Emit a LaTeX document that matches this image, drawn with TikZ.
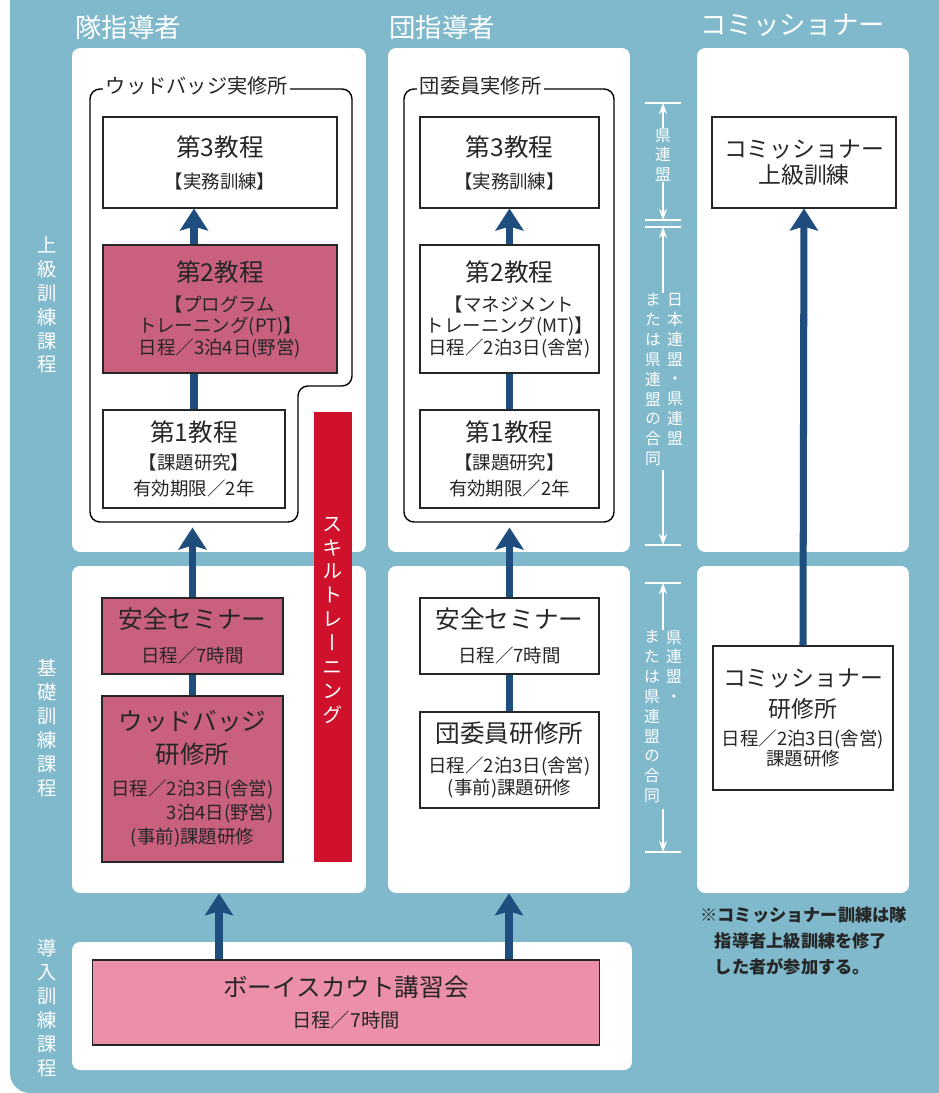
\documentclass[tikz,border=0pt]{standalone}
\usepackage{fontspec}
\setmainfont{Noto Sans CJK JP}
\newfontfamily\vjp{Noto Sans CJK JP}[RawFeature=+vert]
\usetikzlibrary{
  positioning,
  arrows.meta,
  calc
}
\definecolor{bgblue}{HTML}{7FB9CB}
\definecolor{navy}{HTML}{1F4D7E}
\definecolor{rosepink}{HTML}{C8607E}
\definecolor{lightpink}{HTML}{EC8FA8}
\definecolor{skillred}{HTML}{D0112B}
\definecolor{ink}{HTML}{262626}

\newcommand\ttlfont{\fontsize{14}{16.5}\selectfont}
\newcommand\subfont{\fontsize{10.5}{12.2}\selectfont}

\tikzset{
  panel/.style={fill=white, rounded corners=1.6mm, inner sep=0pt},
  cbox/.style={draw=ink, line width=0.6pt, fill=white, text=ink, align=center, inner sep=0pt, font=\subfont},
  pinkbox/.style={cbox, fill=rosepink, text=black!85},
  uparrow/.style={navy, line width=4pt, -{Stealth[length=4.4mm, width=5.6mm, inset=0.8mm]}},
  link/.style={navy, line width=4pt},
  frame/.style={draw=black, line width=0.8pt, rounded corners=2mm},
  framelabel/.style={fill=white, inner sep=1.5pt, anchor=west, text=ink, font=\fontsize{11.5}{13}\selectfont},
  header/.style={anchor=west, text=white, inner sep=0pt, font=\fontsize{15}{18}\selectfont},
  vlabel/.style={text=white, align=center, inner sep=0pt, font=\vjp\fontsize{11}{13.6}\selectfont},
  vnote/.style={text=white, align=center, inner sep=0pt, anchor=north, font=\vjp\fontsize{9}{11.3}\selectfont},
  tick/.style={white, line width=0.7pt},
  guide/.style={white, line width=0.7pt, -{Stealth[length=2.2mm, width=1.6mm]}}
}

\begin{document}
\begin{tikzpicture}[x=0.02cm, y=-0.02cm]
  \useasboundingbox (0,0) rectangle (939,1093);
  % Background
  \fill[white] (0,0) rectangle (939,1093);
  \fill[bgblue, rounded corners=4mm] (10,-40) rectangle (979,1093);

  % Headers
  \node[header] (hTai) at (75,27) {隊指導者};
  \node[header] (hDan) at (389,27) {団指導者};
  \node[header] (hCom) at (700,25) {コミッショナー};

  % Course labels
  \node[vlabel] (lblJo) at (47,305) {上\\級\\訓\\練\\課\\程};
  \node[vlabel] (lblKiso) at (47,728) {基\\礎\\訓\\練\\課\\程};
  \node[vlabel] (lblDonyu) at (47,1008) {導\\入\\訓\\練\\課\\程};

  % Panels
  \node[panel, minimum width=5.88cm, minimum height=10.08cm] (advL) at (219,300) {};
  \node[panel, minimum width=5.88cm, minimum height=6.54cm] (baseL) at (219,729.5) {};
  \node[panel, minimum width=4.84cm, minimum height=10.08cm] (advM) at (509,300) {};
  \node[panel, minimum width=4.84cm, minimum height=6.54cm] (baseM) at (509,729.5) {};
  \node[panel, minimum width=4.24cm, minimum height=10.08cm] (advR) at (803,300) {};
  \node[panel, minimum width=4.24cm, minimum height=6.54cm] (baseR) at (803,729.5) {};
  \node[panel, minimum width=11.2cm, minimum height=2.56cm] (introP) at (352,1006) {};

  % Frames
  \draw[frame] (90,522) -- (90,89) -- (352,89) -- (352,386) -- (298,386) -- (298,522) -- cycle;
  \node[framelabel] (wbFrame) at (103,86) {ウッドバッジ実修所};
  \draw[frame] (404,522) rectangle (614,89);
  \node[framelabel] (dnFrame) at (417,86) {団委員実修所};

  % Left column
  \node[cbox, minimum width=4.68cm, minimum height=1.82cm] (dai3L) at (220,162.5)
    {{\ttlfont 第3教程}\\[6pt]【実務訓練】};
  \node[pinkbox, minimum width=4.68cm, minimum height=2.56cm] (dai2L) at (220,309)
    {{\ttlfont 第2教程}\\[5pt]【プログラム\\トレーニング(PT)】\\日程／3泊4日(野営)};
  \node[cbox, minimum width=3.64cm, minimum height=1.96cm] (dai1L) at (194,459)
    {{\ttlfont 第1教程}\\[4pt]【課題研究】\\[2.5pt]有効期限／2年};
  \node[pinkbox, minimum width=3.62cm, minimum height=1.52cm] (anzenL) at (192.5,636)
    {{\ttlfont 安全セミナー}\\[7pt]日程／7時間};
  \node[pinkbox, minimum width=3.62cm, minimum height=3.32cm] (wbkenL) at (192.5,779)
    {{\ttlfont ウッドバッジ}\\[5pt]{\ttlfont 研修所}\\[6pt]日程／2泊3日(舎営)\\[1.5pt]\hphantom{日程／}3泊4日(野営)\\[1.5pt](事前)課題研修};
  \node[fill=skillred, minimum width=0.76cm, minimum height=9cm, inner sep=0pt] (skill) at (333,637) {};
  \node[vlabel, font=\vjp\fontsize{11.5}{13.6}\selectfont, anchor=north, below=2.1cm of skill.north] (skillTxt)
    {ス\\キ\\ル\\ト\\レ\\ー\\ニ\\ン\\グ};

  % Middle column
  \node[cbox, minimum width=3.58cm, minimum height=1.82cm] (dai3M) at (509.5,162.5)
    {{\ttlfont 第3教程}\\[6pt]【実務訓練】};
  \node[cbox, minimum width=3.58cm, minimum height=2.56cm] (dai2M) at (509.5,309)
    {{\ttlfont 第2教程}\\[5pt]【マネジメント\\トレーニング(MT)】\\日程／2泊3日(舎営)};
  \node[cbox, minimum width=3.58cm, minimum height=1.96cm] (dai1M) at (509.5,459)
    {{\ttlfont 第1教程}\\[4pt]【課題研究】\\[2.5pt]有効期限／2年};
  \node[cbox, minimum width=3.58cm, minimum height=1.52cm] (anzenM) at (509.5,636)
    {{\ttlfont 安全セミナー}\\[7pt]日程／7時間};
  \node[cbox, minimum width=3.58cm, minimum height=1.92cm] (dankenM) at (509.5,760)
    {{\ttlfont 団委員研修所}\\[5pt]日程／2泊3日(舎営)\\[0.5pt](事前)課題研修};

  % Right column
  \node[cbox, minimum width=3.68cm, minimum height=1.82cm] (comJo) at (804,162.5)
    {{\fontsize{13}{16}\selectfont コミッショナー}\\[2.7pt]{\fontsize{13}{16}\selectfont 上級訓練}};
  \node[cbox, minimum width=3.6cm, minimum height=2.88cm] (comKen) at (803,718)
    {{\fontsize{13}{16}\selectfont コミッショナー}\\[5pt]{\fontsize{13}{16}\selectfont 研修所}\\[4pt]日程／2泊3日(舎営)\\[-1pt]課題研修};

  % Intro course
  \node[cbox, fill=lightpink, minimum width=10.16cm, minimum height=1.7cm, font=\fontsize{11}{13}\selectfont] (bsk) at (346,1002.5)
    {{\fontsize{14}{17}\selectfont ボーイスカウト講習会}\\[5pt]日程／7時間};

  % Arrows
  \draw[uparrow] (dai2L.north -| dai1L.north) -- (dai3L.south -| dai1L.north);
  \draw[link] (dai1L.north) -- (dai1L.north |- dai2L.south);
  \draw[uparrow, shorten >=0.38cm] (anzenL.north) -- (anzenL.north |- dai1L.south);
  \draw[link] (wbkenL.north) -- (anzenL.south);
  \draw[uparrow] (dai2M.north) -- (dai3M.south);
  \draw[link] (dai1M.north) -- (dai2M.south);
  \draw[uparrow, shorten >=0.38cm] (anzenM.north) -- (dai1M.south);
  \draw[link] (dankenM.north) -- (anzenM.south);
  \draw[uparrow] (comKen.north) -- (comJo.south);
  \draw[uparrow] (bsk.north -| baseL.south) -- (baseL.south);
  \draw[uparrow] (bsk.north -| baseM.south) -- (baseM.south);

  % Organiser guides
  \coordinate (t1) at (663,103);
  \coordinate (t2) at (663,220);
  \coordinate (t3) at (663,227);
  \coordinate (t4) at (663,545);
  \coordinate (t5) at (663,583);
  \coordinate (t6) at (663,852);
  \foreach \t in {t1,t2,t3,t4,t5,t6}
    \draw[tick] ($(\t)+(-18,0)$) -- ($(\t)+(18,0)$);
  \node[vnote] (ken1) at (663,128) {県\\連\\盟};
  \draw[guide] (ken1.north) -- (t1);
  \draw[guide] (ken1.south) -- (t2);
  \node[vnote] (nihon) at (675,293) {日\\本\\連\\盟\\・\\県\\連\\盟};
  \node[vnote] (mata1) at (653,293) {ま\\た\\は\\県\\連\\盟\\の\\合\\同};
  \draw[guide] (nihon.north -| t3) -- (t3);
  \draw[guide] ($(mata1.south -| t4)+(0,4)$) -- (t4);
  \node[vnote] (ken2) at (674,630) {県\\連\\盟\\・};
  \node[vnote] (mata2) at (652,630) {ま\\た\\は\\県\\連\\盟\\の\\合\\同};
  \draw[guide] (ken2.north -| t5) -- (t5);
  \draw[guide] ($(mata2.south -| t6)+(0,6)$) -- (t6);

  % Note
  \node[anchor=north west, align=left, inner sep=0pt, text=ink, font=\bfseries\fontsize{9.8}{15}\selectfont] (note) at (700,906)
    {※コミッショナー訓練は隊\\\hspace*{0.85em}指導者上級訓練を修了\\\hspace*{0.85em}した者が参加する。};
\end{tikzpicture}
\end{document}
